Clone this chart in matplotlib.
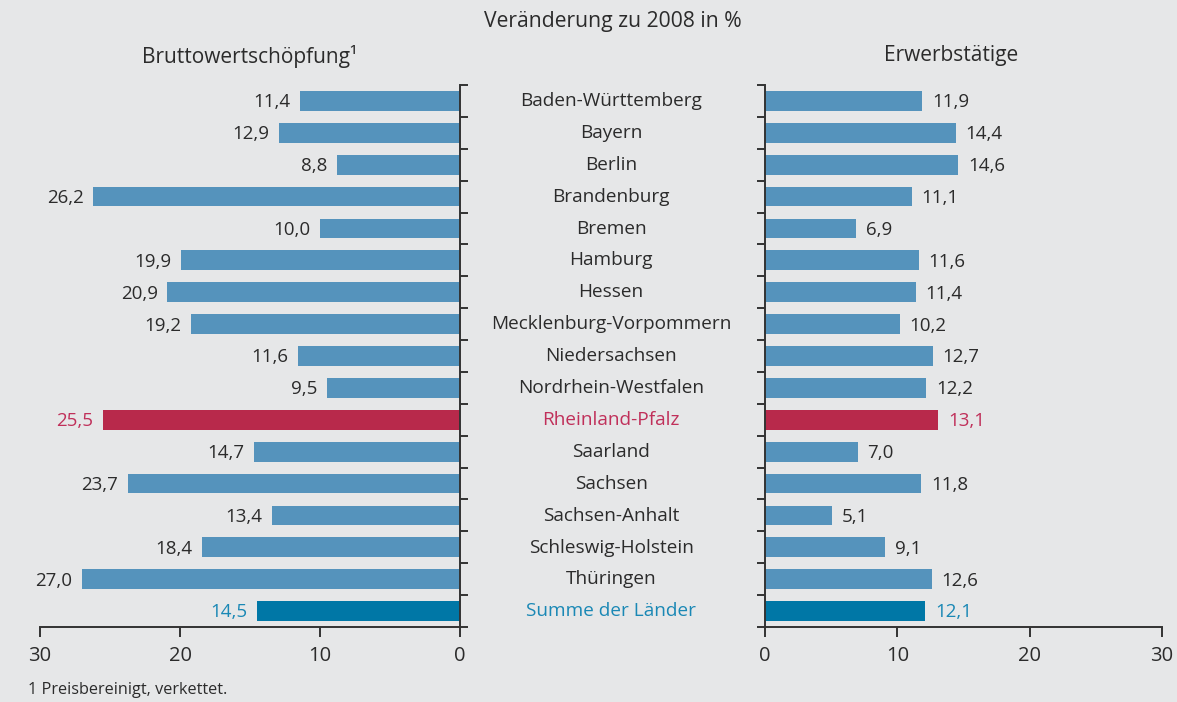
import numpy as np
import matplotlib.pyplot as plt

plt.rcParams['font.family'] = ['Open Sans', 'DejaVu Sans']

laender = ["Baden-Württemberg", "Bayern", "Berlin", "Brandenburg", "Bremen", "Hamburg",
           "Hessen", "Mecklenburg-Vorpommern", "Niedersachsen", "Nordrhein-Westfalen",
           "Rheinland-Pfalz", "Saarland", "Sachsen", "Sachsen-Anhalt",
           "Schleswig-Holstein", "Thüringen", "Summe der Länder"]
bws = [11.4, 12.9, 8.8, 26.2, 10.0, 19.9, 20.9, 19.2, 11.6, 9.5,
       25.5, 14.7, 23.7, 13.4, 18.4, 27.0, 14.5]
erwerb = [11.9, 14.4, 14.6, 11.1, 6.9, 11.6, 11.4, 10.2, 12.7, 12.2,
          13.1, 7.0, 11.8, 5.1, 9.1, 12.6, 12.1]
xticks = [0, 10, 20, 30]

bg = "#e6e7e8"
blue = "#5593bc"
red = "#b8294b"
dark = "#0077a6"
txt = "#2b2b2b"
red_txt = "#c0305a"
blue_txt = "#1a88b5"

n = len(laender)
y = np.arange(n)
bar_cols = [blue] * n
bar_cols[10] = red
bar_cols[16] = dark
lab_cols = [txt] * n
lab_cols[10] = red_txt
lab_cols[16] = blue_txt

fig = plt.figure(figsize=(11.77, 7.02), dpi=100, facecolor=bg)
axl = fig.add_axes([40/1177, 1-627/702, 420/1177, 542/702])
axr = fig.add_axes([765/1177, 1-627/702, 397/1177, 542/702])

def style(ax, side):
    ax.set_facecolor(bg)
    ax.set_ylim(n - 0.5, -0.5)
    ax.set_xlim(0, 30)
    ax.set_xticks(xticks)
    ax.set_yticks(np.arange(-0.5, n, 1.0))
    ax.set_yticklabels([])
    for s in ["top", "left", "right"]:
        ax.spines[s].set_visible(False)
    ax.spines[side].set_visible(True)
    for s in ["bottom", side]:
        ax.spines[s].set_color("#333333")
        ax.spines[s].set_linewidth(1.4)
    ax.tick_params(axis="y", colors="#333333", width=1.4, length=6, direction="out")
    ax.tick_params(axis="x", colors="#333333", width=1.4, length=7, pad=7,
                   labelsize=14.5, labelcolor=txt, direction="out")
    if side == "right":
        ax.yaxis.tick_right()
    else:
        ax.yaxis.tick_left()

style(axl, "right")
style(axr, "left")
axl.invert_xaxis()

axl.barh(y, bws, height=0.62, color=bar_cols)
axr.barh(y, erwerb, height=0.62, color=bar_cols)

for i in range(n):
    axl.annotate(f"{bws[i]:.1f}".replace(".", ","), (bws[i], y[i]),
                 xytext=(-7, -1), textcoords="offset points",
                 ha="right", va="center", fontsize=13.5, color=lab_cols[i])
    axr.annotate(f"{erwerb[i]:.1f}".replace(".", ","), (erwerb[i], y[i]),
                 xytext=(7, -1), textcoords="offset points",
                 ha="left", va="center", fontsize=13.5, color=lab_cols[i])
    fig.text(611/1177, 1 - (101 + i * 31.9) / 702, laender[i], ha="center",
             va="center", fontsize=13.7, color=lab_cols[i])

fig.text(613/1177, 1-22/702, "Veränderung zu 2008 in %", ha="center", va="center",
         fontsize=15.2, color=txt)
fig.text(250/1177, 1-56/702, "Bruttowertschöpfung¹", ha="center", va="center",
         fontsize=15, color=txt)
fig.text(951/1177, 1-56/702, "Erwerbstätige", ha="center", va="center",
         fontsize=15, color=txt)
fig.text(28/1177, 1-690/702, "1 Preisbereinigt, verkettet.", ha="left", va="center",
         fontsize=11.7, color=txt)

fig.savefig("out.png", dpi=100, facecolor=bg)
